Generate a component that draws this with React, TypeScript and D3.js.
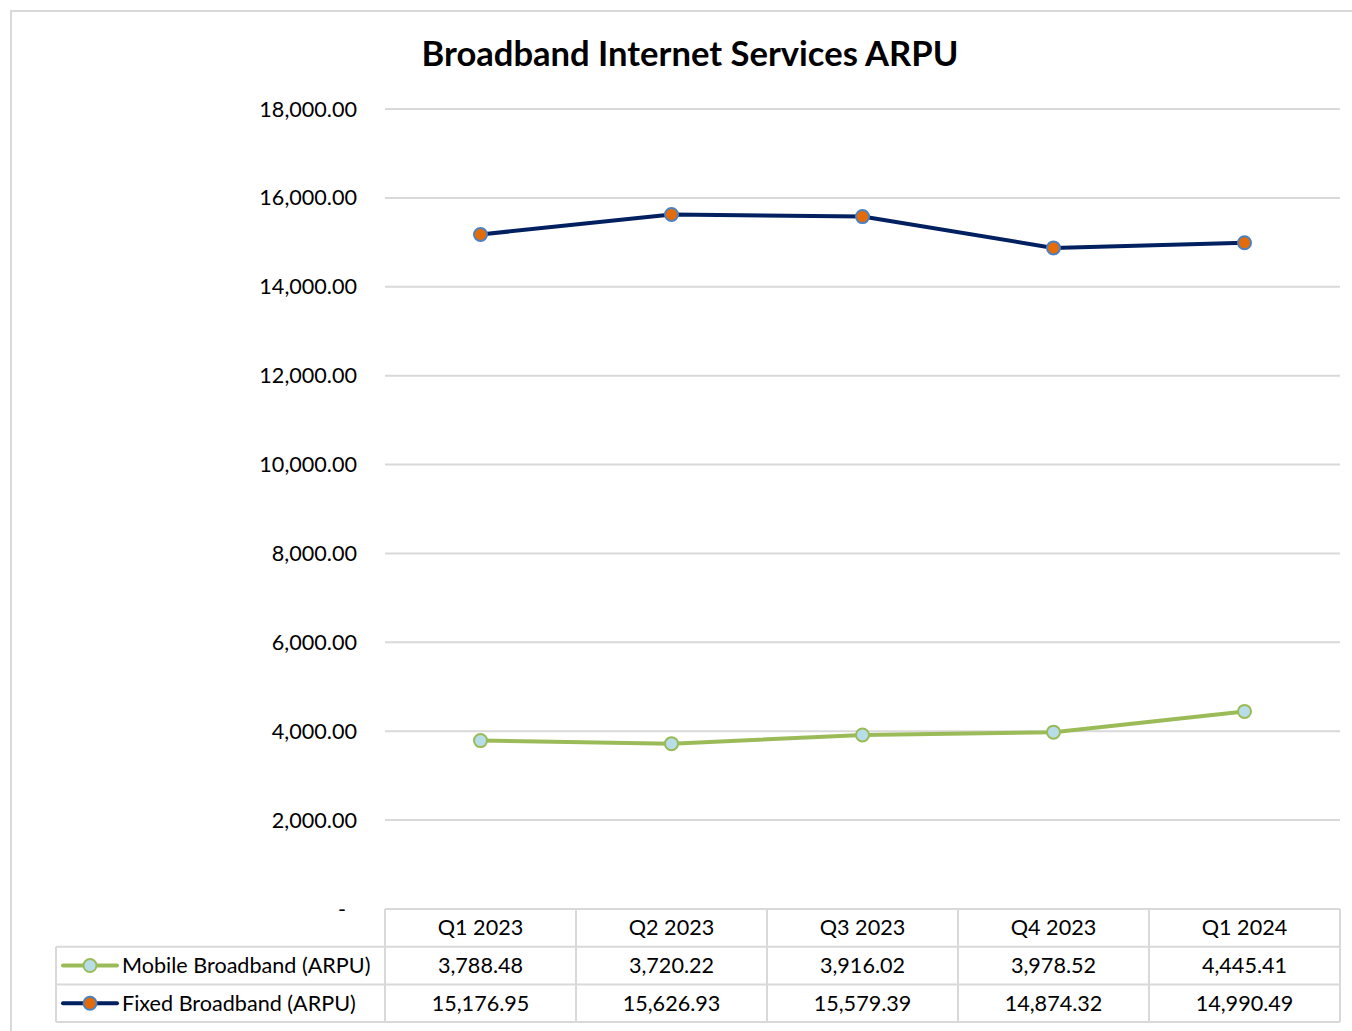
import * as d3 from "d3";

const quarters = ["Q1 2023", "Q2 2023", "Q3 2023", "Q4 2023", "Q1 2024"];
const mobile = [3788.48, 3720.22, 3916.02, 3978.52, 4445.41];
const fixed = [15176.95, 15626.93, 15579.39, 14874.32, 14990.49];
const yTicks = [0, 2000, 4000, 6000, 8000, 10000, 12000, 14000, 16000, 18000];

const W = 1352;
const H = 1031;
const font = "Lato, 'Open Sans', sans-serif";

type Series = {
  name: string;
  values: number[];
  line: string;
  fill: string;
  stroke: string;
};

const series: Series[] = [
  { name: "Mobile Broadband (ARPU)", values: mobile, line: "#9bbb59", fill: "#b7dee8", stroke: "#9bbb59" },
  { name: "Fixed Broadband (ARPU)", values: fixed, line: "#002060", fill: "#e36c09", stroke: "#4f81bd" },
];

const App = () => {
  const left = 385;
  const right = 1340;
  const top = 109;
  const bottom = 909;
  const rowH = 37.7;
  const legendLeft = 56;
  const fs = 21.6;

  const x = d3.scaleBand<string>().domain(quarters).range([left, right]);
  const y = d3.scaleLinear().domain([0, 18000]).range([bottom, top]);
  const fmt = d3.format(",.2f");

  const line = d3
    .line<number>()
    .x((_, i) => (x(quarters[i]) || 0) + x.bandwidth() / 2)
    .y((d) => y(d));

  const grid = "#d9d9d9";

  return (
    <svg
      width={W}
      height={H}
      style={{ position: "absolute", left: 0, top: 0, background: "#fff" }}
      fontFamily={font}
    >
      <rect x={11} y={11} width={W + 10} height={H + 10} fill="#fff" stroke={grid} strokeWidth={2} />

      <text x={690} y={66} textAnchor="middle" fontSize={34.6} fontWeight="bold" fill="#000">
        Broadband Internet Services ARPU
      </text>

      {/* gridlines and y labels */}
      {yTicks.map((t) => (
        <g key={t}>
          {t > 0 && (
            <line x1={left} x2={right} y1={y(t)} y2={y(t)} stroke={grid} strokeWidth={2} />
          )}
          <text
            x={t > 0 ? 357 : 346}
            y={y(t)}
            dy="0.35em"
            textAnchor="end"
            fontSize={fs}
            fill="#000"
          >
            {t > 0 ? fmt(t) : "-"}
          </text>
        </g>
      ))}

      {/* lines */}
      {series.map((s) => (
        <g key={s.name}>
          <path d={line(s.values) || ""} fill="none" stroke={s.line} strokeWidth={4} strokeLinejoin="round" />
          {s.values.map((v, i) => (
            <circle
              key={i}
              cx={(x(quarters[i]) || 0) + x.bandwidth() / 2}
              cy={y(v)}
              r={6.5}
              fill={s.fill}
              stroke={s.stroke}
              strokeWidth={2}
            />
          ))}
        </g>
      ))}

      {/* data table */}
      <g stroke={grid} strokeWidth={2} fill="none">
        <line x1={left} x2={right} y1={bottom} y2={bottom} />
        {[1, 2, 3].map((r) => (
          <line key={r} x1={legendLeft} x2={right} y1={bottom + r * rowH} y2={bottom + r * rowH} />
        ))}
        <line x1={legendLeft} x2={legendLeft} y1={bottom + rowH} y2={bottom + 3 * rowH} />
        {quarters.map((q) => (
          <line key={q} x1={x(q) || 0} x2={x(q) || 0} y1={bottom} y2={bottom + 3 * rowH} />
        ))}
        <line x1={right} x2={right} y1={bottom} y2={bottom + 3 * rowH} />
      </g>
      {quarters.map((q) => (
        <text
          key={q}
          x={(x(q) || 0) + x.bandwidth() / 2}
          y={bottom + rowH / 2}
          dy="0.35em"
          textAnchor="middle"
          fontSize={fs}
          fill="#000"
        >
          {q}
        </text>
      ))}
      {series.map((s, r) => {
        const cy = bottom + rowH * (r + 1.5);
        return (
          <g key={s.name}>
            <line x1={63} x2={117} y1={cy} y2={cy} stroke={s.line} strokeWidth={4} strokeLinecap="round" />
            <circle cx={90} cy={cy} r={6.5} fill={s.fill} stroke={s.stroke} strokeWidth={2} />
            <text x={122} y={cy} dy="0.35em" fontSize={fs} fill="#000">
              {s.name}
            </text>
            {s.values.map((v, i) => (
              <text
                key={i}
                x={(x(quarters[i]) || 0) + x.bandwidth() / 2}
                y={cy}
                dy="0.35em"
                textAnchor="middle"
                fontSize={fs}
                fill="#000"
              >
                {fmt(v)}
              </text>
            ))}
          </g>
        );
      })}
    </svg>
  );
};

export default App;
